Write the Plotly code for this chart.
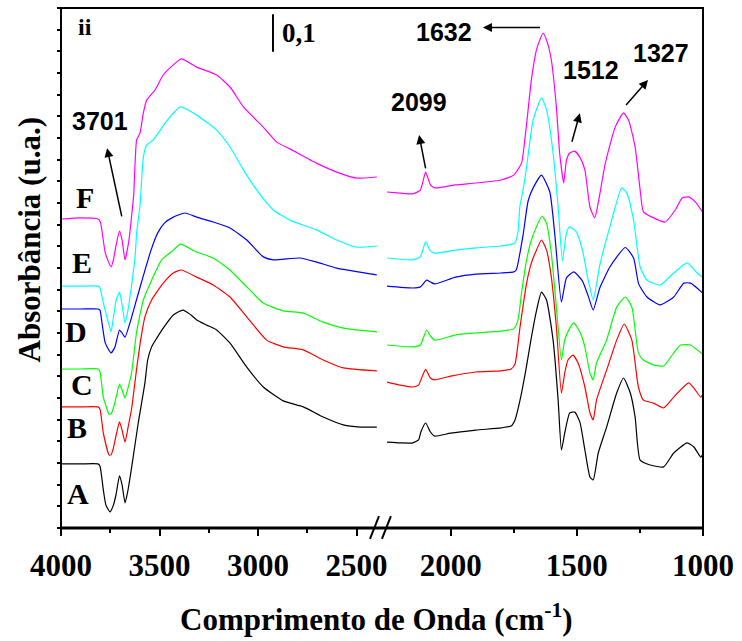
import plotly.graph_objects as go

# FTIR spectra (absorbance, stacked) for samples A-F, split at the axis break.
# Each list holds (wavenumber cm-1, absorbance) pairs.
A_HIGH = [(4000, 0.171), (3900, 0.171), (3812, 0.171), (3802, 0.165), (3785, 0.101), (3772, 0.061),
          (3751, 0.043), (3734, 0.061), (3721, 0.088), (3703, 0.139), (3690, 0.115), (3675, 0.067),
          (3660, 0.101), (3641, 0.163), (3608, 0.280), (3574, 0.387), (3560, 0.448), (3540, 0.483),
          (3513, 0.507), (3481, 0.533), (3430, 0.568), (3381, 0.581), (3340, 0.568), (3311, 0.555),
          (3260, 0.541), (3210, 0.528), (3142, 0.493), (3057, 0.429), (2973, 0.376), (2872, 0.339),
          (2770, 0.323), (2669, 0.296), (2567, 0.275), (2480, 0.269), (2397, 0.269)]
B_HIGH = [(4000, 0.323), (3900, 0.323), (3812, 0.323), (3802, 0.317), (3785, 0.253), (3756, 0.195),
          (3746, 0.195), (3734, 0.213), (3720, 0.248), (3703, 0.283), (3690, 0.261), (3675, 0.229),
          (3660, 0.267), (3641, 0.320), (3617, 0.421), (3608, 0.456), (3594, 0.507), (3574, 0.563),
          (3540, 0.608), (3481, 0.653), (3430, 0.680), (3389, 0.688), (3311, 0.669), (3227, 0.648),
          (3142, 0.616), (3057, 0.563), (2956, 0.501), (2872, 0.483), (2770, 0.475), (2669, 0.448),
          (2567, 0.427), (2397, 0.419)]
C_HIGH = [(4000, 0.424), (3900, 0.424), (3812, 0.424), (3802, 0.416), (3785, 0.349), (3756, 0.304),
          (3746, 0.304), (3734, 0.320), (3720, 0.349), (3703, 0.384), (3690, 0.368), (3675, 0.347),
          (3660, 0.373), (3641, 0.416), (3617, 0.520), (3582, 0.608), (3540, 0.661), (3489, 0.715),
          (3430, 0.741), (3394, 0.757), (3311, 0.736), (3227, 0.720), (3142, 0.688), (3057, 0.643),
          (2973, 0.600), (2872, 0.579), (2770, 0.573), (2669, 0.549), (2567, 0.533), (2397, 0.523)]
D_HIGH = [(4000, 0.584), (3900, 0.584), (3812, 0.584), (3802, 0.581), (3792, 0.547), (3775, 0.493),
          (3746, 0.467), (3726, 0.483), (3703, 0.528), (3690, 0.520), (3675, 0.509), (3650, 0.547),
          (3617, 0.608), (3584, 0.669), (3543, 0.741), (3509, 0.787), (3475, 0.813), (3430, 0.829),
          (3371, 0.840), (3311, 0.829), (3227, 0.816), (3142, 0.800), (3057, 0.768), (2973, 0.723),
          (2922, 0.715), (2787, 0.720), (2702, 0.709), (2600, 0.693), (2397, 0.675)]
E_HIGH = [(4000, 0.645), (3900, 0.645), (3812, 0.645), (3802, 0.640), (3785, 0.600), (3756, 0.541),
          (3746, 0.523), (3734, 0.560), (3720, 0.608), (3703, 0.629), (3690, 0.595), (3675, 0.547),
          (3660, 0.581), (3650, 0.616), (3624, 0.723), (3616, 0.787), (3599, 0.860), (3582, 0.989),
          (3565, 1.021), (3531, 1.035), (3464, 1.085), (3394, 1.123), (3311, 1.101), (3210, 1.061),
          (3142, 1.016), (3074, 0.955), (3006, 0.901), (2922, 0.848), (2838, 0.821), (2703, 0.795),
          (2600, 0.768), (2499, 0.749), (2397, 0.752)]
F_HIGH = [(4000, 0.824), (3900, 0.827), (3812, 0.824), (3800, 0.816), (3775, 0.733), (3746, 0.696),
          (3734, 0.715), (3720, 0.755), (3703, 0.792), (3690, 0.768), (3675, 0.715), (3655, 0.768),
          (3641, 0.835), (3631, 0.888), (3616, 1.035), (3599, 1.053), (3582, 1.107), (3565, 1.141),
          (3523, 1.168), (3481, 1.208), (3430, 1.235), (3389, 1.251), (3311, 1.229), (3210, 1.208),
          (3142, 1.176), (3074, 1.123), (2973, 1.069), (2905, 1.029), (2838, 1.011), (2703, 0.973),
          (2600, 0.949), (2499, 0.933), (2397, 0.936)]

A_LOW = [(2252, 0.229), (2200, 0.227), (2150, 0.227), (2127, 0.235), (2118, 0.256), (2099, 0.280),
         (2080, 0.256), (2063, 0.245), (2000, 0.253), (1900, 0.261), (1800, 0.267), (1760, 0.272),
         (1745, 0.288), (1725, 0.341), (1702, 0.421), (1682, 0.501), (1661, 0.576), (1640, 0.629),
         (1620, 0.608), (1594, 0.501), (1574, 0.341), (1561, 0.208), (1548, 0.253), (1528, 0.307),
         (1508, 0.309), (1488, 0.283), (1468, 0.208), (1448, 0.136), (1435, 0.128), (1415, 0.200),
         (1382, 0.269), (1342, 0.360), (1315, 0.400), (1288, 0.360), (1269, 0.296), (1249, 0.181),
         (1209, 0.168), (1156, 0.163), (1116, 0.200), (1063, 0.227), (1036, 0.216), (1009, 0.189),
         (1002, 0.195)]
B_LOW = [(2252, 0.389), (2200, 0.381), (2150, 0.376), (2127, 0.381), (2115, 0.400), (2099, 0.423),
         (2080, 0.400), (2063, 0.395), (2000, 0.405), (1900, 0.416), (1800, 0.419), (1760, 0.424),
         (1745, 0.437), (1725, 0.536), (1699, 0.653), (1680, 0.707), (1660, 0.741), (1640, 0.768),
         (1620, 0.741), (1601, 0.669), (1581, 0.536), (1561, 0.360), (1548, 0.413), (1535, 0.448),
         (1515, 0.461), (1495, 0.440), (1468, 0.376), (1448, 0.307), (1435, 0.288), (1422, 0.341),
         (1382, 0.421), (1342, 0.501), (1312, 0.544), (1282, 0.501), (1256, 0.376), (1236, 0.341),
         (1196, 0.333), (1156, 0.320), (1116, 0.349), (1057, 0.387), (1036, 0.373), (1009, 0.349),
         (1002, 0.355)]
C_LOW = [(2252, 0.488), (2150, 0.483), (2120, 0.488), (2095, 0.528), (2080, 0.512), (2063, 0.501),
         (1980, 0.515), (1900, 0.520), (1800, 0.525), (1750, 0.531), (1733, 0.555), (1719, 0.627),
         (1699, 0.715), (1680, 0.768), (1660, 0.803), (1638, 0.832), (1620, 0.813), (1601, 0.733),
         (1581, 0.589), (1561, 0.448), (1548, 0.501), (1528, 0.533), (1512, 0.547), (1488, 0.523),
         (1468, 0.483), (1448, 0.413), (1435, 0.395), (1422, 0.440), (1382, 0.501), (1342, 0.589),
         (1308, 0.616), (1282, 0.589), (1256, 0.467), (1236, 0.448), (1196, 0.435), (1156, 0.432),
         (1116, 0.467), (1089, 0.488), (1049, 0.488), (1023, 0.475), (1002, 0.464)]
D_LOW = [(2252, 0.645), (2150, 0.640), (2120, 0.643), (2095, 0.661), (2080, 0.656), (2063, 0.651),
         (1980, 0.669), (1900, 0.677), (1800, 0.680), (1750, 0.683), (1740, 0.688), (1713, 0.781),
         (1693, 0.872), (1673, 0.907), (1640, 0.941), (1607, 0.896), (1587, 0.781), (1561, 0.603),
         (1541, 0.667), (1512, 0.683), (1478, 0.659), (1455, 0.619), (1435, 0.581), (1409, 0.640),
         (1369, 0.696), (1308, 0.748), (1275, 0.720), (1255, 0.651), (1222, 0.616), (1170, 0.595),
         (1116, 0.616), (1076, 0.653), (1049, 0.653), (1002, 0.627)]
E_LOW = [(2252, 0.720), (2150, 0.715), (2120, 0.723), (2099, 0.763), (2080, 0.739), (2063, 0.733),
         (1980, 0.741), (1900, 0.747), (1800, 0.752), (1745, 0.760), (1732, 0.795), (1726, 0.856),
         (1713, 0.901), (1699, 0.963), (1673, 1.088), (1640, 1.147), (1620, 1.115), (1594, 1.000),
         (1574, 0.856), (1557, 0.712), (1541, 0.787), (1528, 0.803), (1501, 0.789), (1475, 0.733),
         (1455, 0.661), (1435, 0.608), (1409, 0.701), (1369, 0.803), (1322, 0.907), (1302, 0.893),
         (1275, 0.821), (1249, 0.696), (1222, 0.661), (1170, 0.648), (1116, 0.680), (1063, 0.707),
         (1023, 0.680), (1002, 0.669)]
F_LOW = [(2252, 0.896), (2200, 0.893), (2150, 0.891), (2120, 0.901), (2099, 0.949), (2080, 0.915),
         (2063, 0.907), (1980, 0.915), (1900, 0.920), (1800, 0.928), (1750, 0.941), (1719, 0.973),
         (1706, 1.035), (1693, 1.115), (1680, 1.195), (1660, 1.275), (1647, 1.301), (1634, 1.320),
         (1620, 1.301), (1601, 1.248), (1581, 1.123), (1568, 1.000), (1552, 0.920), (1541, 0.981),
         (1528, 1.000), (1508, 1.005), (1488, 0.989), (1468, 0.955), (1448, 0.856), (1429, 0.827),
         (1413, 0.875), (1387, 0.973), (1348, 1.069), (1315, 1.107), (1295, 1.088), (1269, 1.016),
         (1249, 0.901), (1236, 0.843), (1202, 0.829), (1150, 0.816), (1110, 0.848), (1083, 0.880),
         (1057, 0.883), (1030, 0.869), (1002, 0.843)]

SAMPLES = ["A", "B", "C", "D", "E", "F"]
COLORS = ["#000000", "#FF0000", "#00FF00", "#0000FF", "#00FFFF", "#FF00FF"]
HIGH = [A_HIGH, B_HIGH, C_HIGH, D_HIGH, E_HIGH, F_HIGH]
LOW = [A_LOW, B_LOW, C_LOW, D_LOW, E_LOW, F_LOW]

X_TICKS_HIGH = [4000, 3500, 3000, 2500]
X_TICKS_LOW = [2000, 1500, 1000]
X_MINOR_HIGH = [3750, 3250, 2750]
X_MINOR_LOW = [1750, 1250]

# Sample letters (label, wavenumber, absorbance) and peak callouts
LETTERS = [("A", 3914, 0.091), ("B", 3921, 0.269), ("C", 3893, 0.384),
           ("D", 3924, 0.523), ("E", 3891, 0.708), ("F", 3878, 0.881)]
PEAKS = ["3701", "2099", "1632", "1512", "1327"]

Y_MAX = 1.3867
SCALE_BAR = 0.1

SERIF = "Liberation Serif"
SANS = "Liberation Sans"

fig = go.Figure()
for name, color, hi, lo in zip(SAMPLES, COLORS, HIGH, LOW):
    line = dict(color=color, width=1.2, shape="spline", smoothing=0.5)
    fig.add_trace(go.Scatter(x=[p[0] for p in hi], y=[p[1] for p in hi], mode="lines",
                             line=line, name=name, xaxis="x", yaxis="y", showlegend=False))
    fig.add_trace(go.Scatter(x=[p[0] for p in lo], y=[p[1] for p in lo], mode="lines",
                             line=line, name=name, xaxis="x2", yaxis="y", showlegend=False))

tickfont = dict(family=SERIF, size=31, color="black", weight="bold")
common_x = dict(showgrid=False, zeroline=False, showline=False, ticks="outside", ticklen=7,
                tickwidth=2, tickcolor="black", tickfont=tickfont, tickmode="array",
                automargin=False, ticklabelstandoff=3)
fig.update_layout(
    width=742, height=641,
    margin=dict(l=61, r=39, t=8, b=113),
    paper_bgcolor="white", plot_bgcolor="white",
    xaxis=dict(domain=[0, 0.4922], range=[4000, 2396], tickvals=X_TICKS_HIGH,
               minor=dict(tickmode="array", tickvals=X_MINOR_HIGH, ticks="outside", ticklen=4,
                          tickwidth=2, tickcolor="black"),
               anchor="y", **common_x),
    xaxis2=dict(domain=[0.5047, 1], range=[2260, 1000], tickvals=X_TICKS_LOW,
                minor=dict(tickmode="array", tickvals=X_MINOR_LOW, ticks="outside", ticklen=4,
                           tickwidth=2, tickcolor="black"),
                anchor="y", **common_x),
    yaxis=dict(range=[0, Y_MAX], showgrid=False, zeroline=False, showline=False,
               showticklabels=False, ticks="outside", ticklen=3, tickwidth=2, tickcolor="black",
               tick0=0, dtick=Y_MAX / 24, automargin=False),
)

# Frame around the whole plotting area, heavier bottom axis line
fig.add_shape(type="rect", xref="paper", yref="paper", x0=0, x1=1, y0=0, y1=1,
              line=dict(color="black", width=2))
fig.add_shape(type="line", xref="paper", yref="paper", x0=0, x1=1, y0=0, y1=0,
              line=dict(color="black", width=3))
# Axis-break marks
for x0 in (0.4813, 0.4999):
    fig.add_shape(type="line", xref="paper", yref="paper", x0=x0, x1=x0 + 0.014,
                  y0=-0.021, y1=0.023, line=dict(color="black", width=2))

# Scale bar
fig.add_shape(type="line", xref="x", yref="y", x0=2924, x1=2924, y0=1.27, y1=1.27 + SCALE_BAR,
              line=dict(color="black", width=2))
fig.add_annotation(x=2890, y=1.32, xref="x", yref="y", text="0,1", showarrow=False,
                   xanchor="left", yanchor="middle",
                   font=dict(family=SERIF, size=27, color="black", weight="bold"))
fig.add_annotation(x=0.037, y=0.963, xref="paper", yref="paper", text="ii", showarrow=False,
                   xanchor="center", yanchor="middle",
                   font=dict(family=SERIF, size=24, color="black", weight="bold"))

for letter, wn, ab in LETTERS:
    fig.add_annotation(x=wn, y=ab, xref="x", yref="y", text=letter, showarrow=False,
                       xanchor="center", yanchor="middle",
                       font=dict(family=SERIF, size=30, color="black", weight="bold"))

# Peak labels: (text, axis, label x, label y, arrow head x, y, arrow tail x, y)
peak_layout = [
    (PEAKS[0], "x", 3800, 1.085, 3766, 1.013, 3690, 0.827),
    (PEAKS[1], "x2", 2125, 1.136, 2125, 1.048, 2098, 0.955),
    (PEAKS[2], "x2", 2026, 1.323, 1872, 1.335, 1640, 1.335),
    (PEAKS[3], "x2", 1443, 1.221, 1488, 1.106, 1521, 1.026),
    (PEAKS[4], "x2", 1165, 1.267, 1218, 1.195, 1310, 1.124),
]
for text, xr, lx, ly, hx, hy, tx, ty in peak_layout:
    fig.add_annotation(x=lx, y=ly, xref=xr, yref="y", text=text, showarrow=False,
                       xanchor="center", yanchor="middle",
                       font=dict(family=SANS, size=25, color="black", weight="bold"))
    fig.add_annotation(x=hx, y=hy, xref=xr, yref="y", ax=tx, ay=ty, axref=xr, ayref="y",
                       text="", showarrow=True, arrowhead=2, arrowsize=1.2, arrowwidth=1.5,
                       arrowcolor="black", standoff=0, startstandoff=0)

# Axis titles
fig.add_annotation(x=0.4914, y=-0.173, xref="paper", yref="paper",
                   text="Comprimento de Onda (cm<sup>-1</sup>)", showarrow=False,
                   xanchor="center", yanchor="middle",
                   font=dict(family=SERIF, size=31, color="black", weight="bold"))
fig.add_annotation(x=-0.049, y=0.554, xref="paper", yref="paper", text="Absorbância (u.a.)",
                   textangle=-90, showarrow=False, xanchor="center", yanchor="middle",
                   font=dict(family=SERIF, size=31, color="black", weight="bold"))

fig.write_html("out.html")
